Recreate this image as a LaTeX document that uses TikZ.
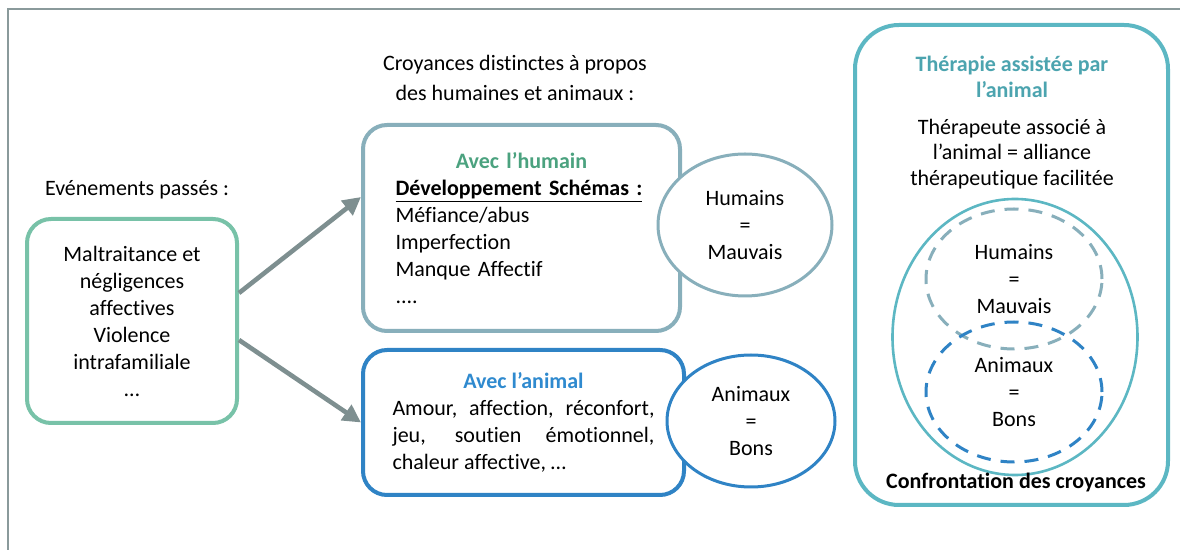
\documentclass[tikz,border=0pt]{standalone}
\usepackage{fontspec}
\setmainfont{Carlito}[Ligatures=NoCommon]
\usetikzlibrary{arrows.meta,positioning,shapes.geometric}
\definecolor{Frame}{HTML}{8A9A9B}
\definecolor{Events}{HTML}{78C2A8}
\definecolor{Link}{HTML}{7E8F90}
\definecolor{Human}{HTML}{88AFBB}
\definecolor{HumanTitle}{HTML}{4BA27F}
\definecolor{Animal}{HTML}{2F83C5}
\definecolor{AnimalTitle}{HTML}{2F8ACF}
\definecolor{Therapy}{HTML}{5CB7C3}
\definecolor{TherapyTitle}{HTML}{4CA4AF}

\begin{document}
\begin{tikzpicture}[x=0.5pt,y=-0.5pt,
  txt/.style={font=\fontsize{11}{13.5}\selectfont,inner sep=0pt,align=center},
  box/.style={draw,rounded corners=12pt,line width=2pt,fill=white},
  belief/.style={ellipse,draw,fill=white,line width=1.5pt,inner sep=0pt,font=\fontsize{11}{13.5}\selectfont,align=center},
  dashbelief/.style={ellipse,draw,line width=1.5pt,dash pattern=on 7pt off 5pt,inner sep=0pt,font=\fontsize{11}{13.5}\selectfont,align=center},
  link/.style={-{Triangle[length=9pt,width=9pt]},Link,line width=2.3pt}]
\useasboundingbox (0,0) rectangle (1180,550);
\draw[Frame,line width=1pt] (8,550) -- (8,9) -- (1180,9);

\node[txt] (pastlabel) at (137,190) {Evénements passés :};
\node[box,draw=Events,minimum width=105pt,minimum height=102pt,txt] (past) at (132,321) {Maltraitance et\\négligences\\affectives\\Violence\\intrafamiliale\\…};

\node[txt,font=\fontsize{11}{15}\selectfont] (beliefs) at (515,78) {Croyances distinctes à propos\\des humaines et animaux :};

\node[box,draw=Human,minimum width=158.5pt,minimum height=103pt,txt,text width=126pt,align=left] (hbox) at (521.5,228) {\makebox[\linewidth]{\bfseries\color{HumanTitle}Avec l’humain}\\\textbf{\underline{Développement Schémas :}}\\Méfiance/abus\\Imperfection\\Manque Affectif\\....};
\node[belief,draw=Human,minimum width=87pt,minimum height=71pt] (hbelief) at (745,225) {Humains\\=\\Mauvais};

\node[box,draw=Animal,minimum width=160.5pt,minimum height=72.5pt,txt,text width=131pt,align=justify] (abox) at (523.5,422.5) {\makebox[\linewidth]{\bfseries\color{AnimalTitle}Avec l’animal}\\Amour, affection, réconfort,\linebreak jeu, soutien émotionnel,\linebreak chaleur affective, …};
\node[belief,draw=Animal,minimum width=84pt,minimum height=66pt] (abelief) at (751,421) {Animaux\\=\\Bons};

\draw[link] ([yshift=14pt]past.east) -- ([yshift=15.5pt]hbox.west);
\draw[link] ([yshift=-9.5pt]past.east) -- (abox.west);

\node[box,draw=Therapy,rounded corners=22pt,minimum width=156.5pt,minimum height=240pt] (tbox) at (1011.5,265) {};
\node[txt,text=TherapyTitle,font=\fontsize{11}{12.8}\selectfont\bfseries] (ttitle) at (1012,77) {Thérapie assistée par\\l’animal};
\node[txt,font=\fontsize{11}{12.8}\selectfont] (tdesc) at (1012,154) {Thérapeute associé à\\l’animal = alliance\\thérapeutique facilitée};
\node[ellipse,draw=Therapy,line width=1.3pt,minimum width=122.5pt,minimum height=138pt] (whole) at (1015,337) {};
\node[dashbelief,draw=Human,minimum width=88pt,minimum height=70pt] (hdash) at (1014,279) {Humains\\=\\Mauvais};
\node[dashbelief,draw=Animal,minimum width=88pt,minimum height=70pt] (adash) at (1014,392) {Animaux\\=\\Bons};
\node[txt,font=\fontsize{11}{13.5}\selectfont\bfseries] (clash) at (1016,483) {Confrontation des croyances};
\end{tikzpicture}
\end{document}
